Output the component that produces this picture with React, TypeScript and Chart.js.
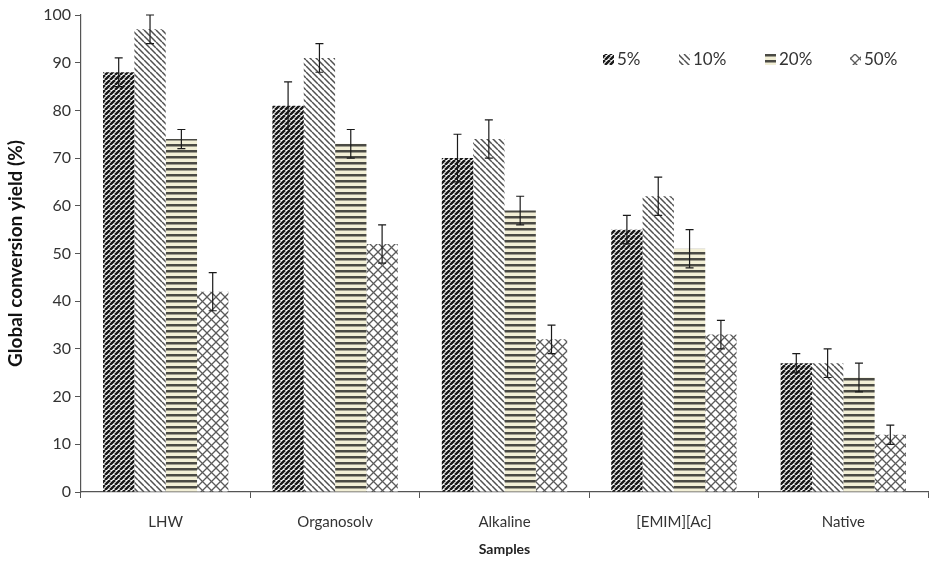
import React, { useEffect, useRef } from "react";
import { Chart, registerables } from "chart.js";

Chart.register(...registerables);

const categories = ["LHW", "Organosolv", "Alkaline", "[EMIM][Ac]", "Native"];
const seriesNames = ["5%", "10%", "20%", "50%"];
const values5 = [88, 81, 70, 55, 27];
const values10 = [97, 91, 74, 62, 27];
const values20 = [74, 73, 59, 51, 24];
const values50 = [42, 52, 32, 33, 12];
const err5 = [3, 5, 5, 3, 2];
const err10 = [3, 3, 4, 4, 3];
const err20 = [2, 3, 3, 4, 3];
const err50 = [4, 4, 3, 3, 2];
const yTicks = [0, 10, 20, 30, 40, 50, 60, 70, 80, 90, 100];

const FONT = "Lato, 'Open Sans', sans-serif";

function makeTile(size: number, draw: (c: CanvasRenderingContext2D, s: number) => void, bg: string) {
  const cv = document.createElement("canvas");
  cv.width = size;
  cv.height = size;
  const c = cv.getContext("2d")!;
  c.fillStyle = bg;
  c.fillRect(0, 0, size, size);
  draw(c, size);
  return c.createPattern(cv, "repeat")!;
}

function diag(dir: 1 | -1, color: string, lw: number) {
  return (c: CanvasRenderingContext2D, s: number) => {
    c.strokeStyle = color;
    c.lineWidth = lw;
    c.beginPath();
    for (const k of [-s, 0, s]) {
      if (dir === 1) {
        c.moveTo(k, s);
        c.lineTo(k + s, 0);
      } else {
        c.moveTo(k, 0);
        c.lineTo(k + s, s);
      }
    }
    c.stroke();
  };
}

function makePatterns() {
  const p5 = makeTile(5, diag(1, "#1a1a1a", 2.5), "#ffffff");
  const p10 = makeTile(6, diag(-1, "#505050", 1.5), "#ffffff");
  const p20 = makeTile(6, (c, s) => {
    c.fillStyle = "#4a4a44";
    c.fillRect(0, 0, s, 2.5);
  }, "#f2efd6");
  const p50 = makeTile(9, (c, s) => {
    diag(1, "#5a5a5a", 1.3)(c, s);
    diag(-1, "#5a5a5a", 1.3)(c, s);
  }, "#ffffff");
  return [p5, p10, p20, p50];
}

const errorBarPlugin = {
  id: "errorBars",
  afterDatasetsDraw(chart: any) {
    const ctx = chart.ctx;
    const y = chart.scales.y;
    chart.data.datasets.forEach((ds: any, di: number) => {
      const meta = chart.getDatasetMeta(di);
      meta.data.forEach((bar: any, i: number) => {
        const v = ds.data[i];
        const e = ds.errors[i];
        const top = y.getPixelForValue(v + e);
        const bot = y.getPixelForValue(v - e);
        const x = bar.x;
        ctx.save();
        ctx.strokeStyle = "#1a1a1a";
        ctx.lineWidth = 1.2;
        ctx.beginPath();
        ctx.moveTo(x, top);
        ctx.lineTo(x, bot);
        ctx.moveTo(x - 4, top);
        ctx.lineTo(x + 4, top);
        ctx.moveTo(x - 4, bot);
        ctx.lineTo(x + 4, bot);
        ctx.stroke();
        ctx.restore();
      });
    });
  },
};

const legendPlugin = {
  id: "insideLegend",
  afterDraw(chart: any) {
    const ctx = chart.ctx;
    const area = chart.chartArea;
    const offsets = [522, 598, 684, 769];
    const yc = area.top + 45;
    chart.data.datasets.forEach((ds: any, i: number) => {
      const x = area.left + offsets[i];
      ctx.save();
      ctx.fillStyle = ds.backgroundColor;
      ctx.fillRect(x, yc - 6, 11, 11);
      ctx.fillStyle = "#333";
      ctx.font = `17px ${FONT}`;
      ctx.textBaseline = "middle";
      ctx.textAlign = "left";
      ctx.fillText(ds.label, x + 14, yc);
      ctx.restore();
    });
  },
};

export default function App() {
  const ref = useRef<HTMLCanvasElement>(null);
  useEffect(() => {
    const pats = makePatterns();
    const vals = [values5, values10, values20, values50];
    const errs = [err5, err10, err20, err50];
    const chart = new Chart(ref.current!, {
      type: "bar",
      data: {
        labels: categories,
        datasets: seriesNames.map((n, i) => ({
          label: n,
          data: vals[i],
          errors: errs[i],
          backgroundColor: pats[i],
          borderWidth: 0,
          categoryPercentage: 0.74,
          barPercentage: 1.0,
        })) as any,
      },
      options: {
        animation: false,
        responsive: false,
        maintainAspectRatio: false,
        layout: { padding: { left: 0, right: 3, top: 15, bottom: 0 } },
        plugins: {
          tooltip: { enabled: false },
          legend: { display: false },
        },
        scales: {
          x: {
            grid: {
              display: true,
              offset: true,
              drawOnChartArea: false,
              drawTicks: true,
              tickLength: 6,
              color: "#555",
            },
            border: { display: true, color: "#555", width: 1.2 },
            ticks: { color: "#333", font: { family: FONT, size: 15 }, padding: 15 },
            title: {
              display: true,
              text: "Samples",
              color: "#222",
              font: { family: FONT, size: 14, weight: "bold" },
              padding: { top: 4 },
            },
            afterFit: (s: any) => {
              s.height = 70;
            },
          },
          y: {
            min: 0,
            max: 100,
            afterBuildTicks: (s: any) => {
              s.ticks = yTicks.map((v) => ({ value: v }));
            },
            grid: {
              display: true,
              drawOnChartArea: false,
              drawTicks: true,
              tickLength: 6,
              color: "#555",
            },
            border: { display: true, color: "#555", width: 1.2 },
            ticks: { color: "#333", font: { family: FONT, size: 16 }, padding: 4 },
            title: {
              display: true,
              text: "Global conversion yield (%)",
              color: "#111",
              font: { family: FONT, size: 19, weight: "bold" },
              padding: { bottom: 2 },
            },
            afterFit: (s: any) => {
              s.width = 81;
            },
          },
        },
      },
      plugins: [errorBarPlugin, legendPlugin],
    });
    return () => chart.destroy();
  }, []);
  return (
    <div style={{ position: "absolute", left: 0, top: 0, width: 931, height: 562, background: "#fff" }}>
      <canvas ref={ref} width={931} height={562} />
    </div>
  );
}
